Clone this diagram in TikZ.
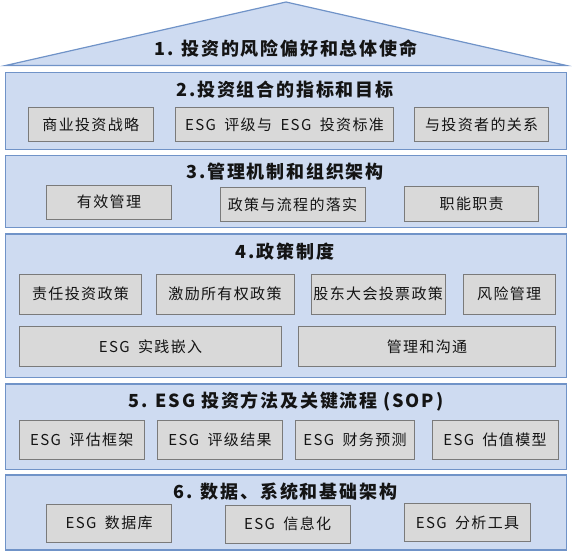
\documentclass[tikz,border=0pt]{standalone}
\usepackage{fontspec}
\setmainfont{Noto Sans CJK SC}
\newfontfamily\boxfont[LetterSpace=9, WordSpace=1.8]{Noto Sans CJK SC}
\newfontfamily\headfont[LetterSpace=10]{Noto Sans CJK SC}
\usetikzlibrary{positioning}

\definecolor{layerfill}{HTML}{CEDBF1}
\definecolor{layerline}{HTML}{7093C8}
\definecolor{itemfill}{HTML}{D9D9D9}
\definecolor{itemline}{HTML}{7A7A7A}
\definecolor{inkcol}{HTML}{141414}

\tikzset{
  layer/.style={draw=layerline, fill=layerfill, line width=1.2pt, inner sep=0pt},
  heading/.style={text=inkcol, font=\headfont\bfseries\fontsize{18}{21}\selectfont, inner sep=0pt},
  item/.style={draw=itemline, fill=itemfill, line width=1pt, text=inkcol, inner sep=0pt,
    font=\boxfont\fontsize{15}{18}\selectfont}
}

\begin{document}
\begin{tikzpicture}[x=1pt, y=-1pt]
\useasboundingbox (0,0) rectangle (572,552);

% The roof
\coordinate (roofL) at (5.5,65.5);
\coordinate (roofT) at (286,2);
\coordinate (roofR) at (566.5,65.5);
\draw [layer] (roofL) -- (roofT) -- (roofR) -- cycle;
\node [heading] (t1) at (286,49) {1. 投资的风险偏好和总体使命};

% Layer 2
\node [layer, minimum width=560.6, minimum height=76.6] (l2) at (286,111) {};
\node [heading] (t2) at (285,90) {2.投资组合的指标和目标};
\node [item, minimum width=125, minimum height=34] (b21) at (90.8,124.7) {商业投资战略};
\node [item, minimum width=217.6, minimum height=34] (b22) at (284.5,124.7) {ESG 评级与 ESG 投资标准};
\node [item, minimum width=134, minimum height=34] (b23) at (481.7,124.7) {与投资者的关系};

% Layer 3
\node [layer, minimum width=560.6, minimum height=71.6] (l3) at (286,191.5) {};
\node [heading] (t3) at (285,171.7) {3.管理机制和组织架构};
\node [item, minimum width=125.4, minimum height=34.3] (b31) at (109,202.2) {有效管理};
\node [item, minimum width=145, minimum height=34.4] (b32) at (292.5,204.5) {政策与流程的落实};
\node [item, minimum width=134, minimum height=35] (b33) at (471.7,204.2) {职能职责};

% Layer 4
\node [layer, minimum width=561, minimum height=143.3] (l4) at (286.3,305.7) {};
\node [heading] (t4) at (285,251.7) {4.政策制度};
\node [item, minimum width=122.4, minimum height=40] (b41) at (80.5,294) {责任投资政策};
\node [item, minimum width=138, minimum height=40] (b42) at (225,294) {激励所有权政策};
\node [item, minimum width=134.3, minimum height=40] (b43) at (378.2,294) {股东大会投票政策};
\node [item, minimum width=92.3, minimum height=40] (b44) at (509.2,294) {风险管理};
\node [item, minimum width=262.4, minimum height=40] (b45) at (150.5,346.7) {ESG 实践嵌入};
\node [item, minimum width=256.6, minimum height=40] (b46) at (427,346.7) {管理和沟通};

% Layer 5
\node [layer, minimum width=561, minimum height=85.3] (l5) at (286.3,426.7) {};
\node [heading] (t5) at (286,401.7) {5. ESG 投资方法及关键流程 (SOP)};
\node [item, minimum width=125, minimum height=39] (b51) at (81.8,439.5) {ESG 评估框架};
\node [item, minimum width=125.4, minimum height=39] (b52) at (220,439.5) {ESG 评级结果};
\node [item, minimum width=119.4, minimum height=39] (b53) at (355,439.5) {ESG 财务预测};
\node [item, minimum width=126, minimum height=39] (b54) at (495,439.5) {ESG 估值模型};

% Layer 6
\node [layer, minimum width=561, minimum height=75] (l6) at (286.3,512.5) {};
\node [heading] (t6) at (285.5,491.7) {6. 数据、系统和基础架构};
\node [item, minimum width=125, minimum height=38.3] (b61) at (109.2,523.2) {ESG 数据库};
\node [item, minimum width=125.3, minimum height=38.3] (b62) at (287.7,524.2) {ESG 信息化};
\node [item, minimum width=125.6, minimum height=38.4] (b63) at (467.5,522.5) {ESG 分析工具};

\end{tikzpicture}
\end{document}
